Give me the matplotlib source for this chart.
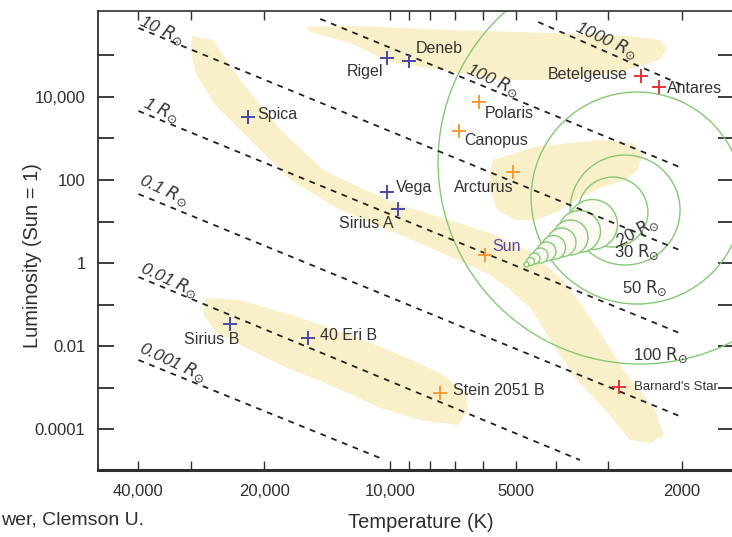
import numpy as np
import matplotlib
matplotlib.use('Agg')
import matplotlib.pyplot as plt
from matplotlib.ticker import FixedLocator, NullFormatter

plt.rcParams['font.family'] = ['Liberation Sans', 'DejaVu Sans']
plt.rcParams['mathtext.fontset'] = 'dejavusans'

# stars: temperature (K) and luminosity (Sun = 1)
star_names = ['Rigel', 'Deneb', 'Betelgeuse', 'Antares', 'Polaris', 'Canopus',
              'Arcturus', 'Spica', 'Vega', 'Sirius A', 'Sun', 'Sirius B',
              '40 Eri B', 'Stein 2051 B', "Barnard's Star"]
star_temp = [10140, 8990, 2506, 2270, 6110, 6820, 5070, 21900, 10140, 9550,
             5910, 24200, 15700, 7580, 2825]
star_lum = [87000, 73600, 32100, 17400, 7590, 1520, 156, 3300, 51, 20,
            1.56, 0.034, 0.0156, 0.00074, 0.00103]
star_kind = ['blue', 'blue', 'red', 'red', 'orange', 'orange', 'orange', 'blue',
             'blue', 'blue', 'orange', 'blue', 'blue', 'orange', 'red']

# constant radius lines (visible start and end)
radius_names = ['1000', '100', '10', '1', '0.1', '0.01', '0.001']
line_t0 = [4415, 14680, 40000, 40000, 40000, 40000, 40000]
line_l0 = [6.4e5, 7.6e5, 4.6e5, 4600, 46, 0.46, 0.0046]
line_t1 = [2000, 2000, 2000, 2000, 2000, 3506, 10550]
line_l1 = [1.95e4, 195, 1.95, 0.0195, 1.95e-4, 1.79e-5, 2.0e-5]

# size comparison rings (red giant growth)
ring_names = ['20', '30', '50', '100']
ring_temp = [2924, 2735, 2559, 2518]
ring_lum = [16.9, 18.9, 36.8, 271.6]
ring_radius_px = [35, 55, 106, 202]

chain_temp = [4732, 4624, 4508, 4365, 4227, 4064, 3899, 3715, 3516, 3289]
chain_lum = [0.968, 1.125, 1.297, 1.578, 1.923, 2.455, 3.133, 4.207, 5.902, 8.750]
chain_radius_px = [2.5, 4, 5.5, 7.5, 9.5, 12, 14.5, 17.5, 21, 25]

# shaded regions, log10(T) and log10(L)
sg_logt = [4.202, 4.095, 3.856, 3.616, 3.425, 3.353, 3.337, 3.353, 3.449, 3.592,
           3.736, 3.880, 3.999, 4.095, 4.191]
sg_logl = [5.687, 5.711, 5.614, 5.542, 5.470, 5.373, 5.181, 4.892, 4.602, 4.410,
           4.410, 4.651, 4.843, 5.301, 5.566]

ms_logt = [4.473, 4.425, 4.358, 4.262, 4.159, 4.071, 3.975, 3.880, 3.760, 3.664,
           3.580, 3.509, 3.437, 3.365, 3.344, 3.377, 3.425, 3.478, 3.552, 3.616,
           3.664, 3.712, 3.760, 3.880, 3.975, 4.119, 4.238, 4.334, 4.418, 4.463, 4.478]
ms_logl = [5.470, 5.373, 4.410, 3.205, 2.241, 1.807, 1.398, 1.108, 0.723, 0.265,
           -0.458, -1.494, -2.627, -3.542, -4.145, -4.337, -4.265, -3.614, -2.819, -1.855,
           -1.084, -0.651, -0.289, 0.265, 0.675, 1.277, 2.000, 2.964, 3.807, 4.530, 5.133]

gb_logt = [3.753, 3.647, 3.490, 3.418, 3.396, 3.406, 3.437, 3.497, 3.545, 3.592,
           3.647, 3.700, 3.743, 3.760, 3.760]
gb_logl = [2.482, 2.819, 2.964, 2.892, 2.602, 2.241, 2.000, 1.807, 1.566, 1.277,
           1.036, 1.036, 1.277, 1.759, 2.193]

wd_logt = [4.442, 4.358, 4.214, 4.095, 3.975, 3.880, 3.820, 3.813, 3.836, 3.927,
           4.023, 4.143, 4.262, 4.358, 4.418, 4.447]
wd_logl = [-0.843, -0.892, -1.325, -1.735, -2.217, -2.651, -3.108, -3.542, -3.904, -3.783,
           -3.494, -2.940, -2.458, -1.976, -1.663, -1.253]

colors = {'blue': '#4848a8', 'orange': '#f39b3a', 'red': '#e5343a'}
band = '#f9f0c9'
green = '#84c972'
ink = '#2e2e2e'

fig = plt.figure(figsize=(7.32, 5.37), dpi=100)
ax = fig.add_axes([98 / 732, 67 / 537, 636 / 732, 459 / 537])
ax.set_xscale('log')
ax.set_yscale('log')
ax.set_xlim(50000, 1500)
ax.set_ylim(1.03e-5, 1.18e6)

for lt, ll in [(sg_logt, sg_logl), (ms_logt, ms_logl), (gb_logt, gb_logl), (wd_logt, wd_logl)]:
    ax.fill(10 ** np.array(lt), 10 ** np.array(ll), color=band, lw=0, zorder=1)

# radius lines
for t0, l0, t1, l1 in zip(line_t0, line_l0, line_t1, line_l1):
    ax.plot([t0, t1], [l0, l1], color='#222222', lw=1.3, ls=(0, (3.2, 3.2)), zorder=3)

line_lab_t = [3034, 5662, 35240, 35400, 34830, 33880, 33190]
line_lab_l = [2.36e5, 2.57e4, 4.11e5, 4864, 57.4, 0.389, 0.00411]
for name, t, l in zip(radius_names, line_lab_t, line_lab_l):
    ax.text(t, l, name + r' $R_{\odot}$', rotation=-25, ha='center', va='center',
            fontsize=12.5, fontstyle='italic', color='#333333', zorder=4)

# rings
px2pt = 72 / 100
for t, l, r in zip(ring_temp, ring_lum, ring_radius_px):
    ax.scatter([t], [l], s=(2 * r * px2pt) ** 2, marker='o', facecolors='none',
               edgecolors=green, linewidths=1.0, zorder=2)
order = np.argsort(chain_radius_px)[::-1]
for i in order:
    ax.scatter([chain_temp[i]], [chain_lum[i]], s=(2 * chain_radius_px[i] * px2pt) ** 2,
               marker='o', facecolors='#fbfbf4', edgecolors=green, linewidths=1.0, zorder=2.5)

ring_lab_t = [2547, 2559, 2460, 2254]
ring_lab_l = [5.58, 1.84, 0.25, 0.00607]
ring_lab_rot = [28, 0, 0, 0]
for name, t, l, rot in zip(ring_names, ring_lab_t, ring_lab_l, ring_lab_rot):
    ax.text(t, l, name + r' $\mathrm{R}_{\odot}$', rotation=rot, ha='center', va='center',
            fontsize=12, color='#333333', zorder=4)

# stars
lab_off = [(-22, -14), (7, 13), (-13, 1), (8, -1), (5, -12), (5, -10), (-29, -16),
           (10, 2), (9, 5), (-32, -14), (7, 8), (-18, -16), (12, 3), (13, 2), (15, 0)]
lab_ha = ['center', 'left', 'right', 'left', 'left', 'left', 'center', 'left', 'left',
          'center', 'left', 'center', 'left', 'left', 'left']
for name, t, l, kind, off, ha in zip(star_names, star_temp, star_lum, star_kind, lab_off, lab_ha):
    ax.plot(t, l, marker='+', ms=10, mew=1.4, color=colors[kind], zorder=5)
    fs = 9.5 if name == "Barnard's Star" else 11.5
    c = '#5548b0' if name == 'Sun' else '#333333'
    ax.annotate(name, (t, l), xytext=(off[0], off[1]), textcoords='offset pixels',
                ha=ha, va='center', fontsize=fs, color=c, zorder=6)

# axes styling
ax.xaxis.set_major_locator(FixedLocator([40000, 20000, 10000, 5000, 2000]))
ax.set_xticklabels(['40,000', '20,000', '10,000', '5000', '2000'])
ax.xaxis.set_minor_locator(FixedLocator([30000, 9000, 8000, 7000, 6000, 4000, 3000]))
ax.xaxis.set_minor_formatter(NullFormatter())
ax.yaxis.set_major_locator(FixedLocator([1e4, 1e2, 1, 1e-2, 1e-4]))
ax.set_yticklabels(['10,000', '100', '1', '0.01', '0.0001'])
ax.yaxis.set_minor_locator(FixedLocator([1e5, 1e3, 10, 0.1, 1e-3]))
ax.yaxis.set_minor_formatter(NullFormatter())

ax.tick_params(axis='x', which='both', direction='in', top=True, length=6.5, width=1.0,
               labelsize=12, pad=10, colors=ink)
ax.tick_params(axis='y', which='both', direction='in', right=True, length=11.5, width=1.3,
               labelsize=12, pad=9, colors=ink)
ax.spines['left'].set_linewidth(1.3)
ax.spines['bottom'].set_linewidth(2.2)
ax.spines['top'].set_linewidth(1.2)
ax.spines['right'].set_linewidth(1.2)
for s in ax.spines.values():
    s.set_color(ink)

fig.text(421 / 732, 1 - 522 / 537, 'Temperature (K)', ha='center', va='center',
         fontsize=14.5, color=ink)
fig.text(33 / 732, 1 - 256 / 537, 'Luminosity (Sun = 1)', rotation=90, ha='center',
         va='center', fontsize=14.5, color=ink)
fig.text(1 / 732, 1 - 520 / 537, 'wer, Clemson U.', ha='left', va='center',
         fontsize=14, color=ink)

fig.savefig('out.png', dpi=100)
